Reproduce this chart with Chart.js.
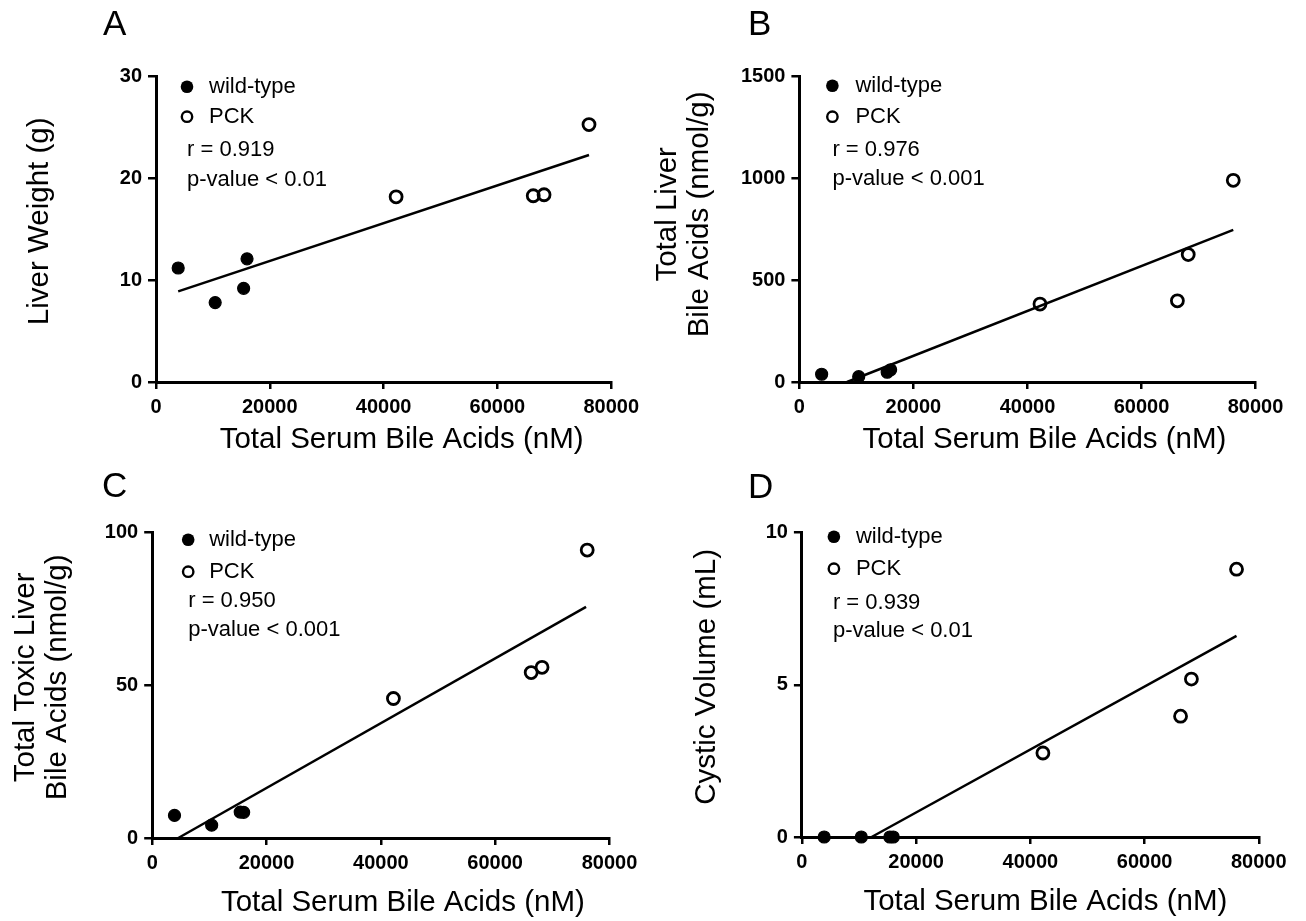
<!DOCTYPE html>
<html>
<head>
<meta charset="utf-8">
<script src="https://cdn.jsdelivr.net/npm/chart.js@4.4.1/dist/chart.umd.min.js"></script>
<style>
  body { margin: 0; background: #fff; }
  #fig { position: relative; width: 1306px; height: 921px; }
  #fig canvas { position: absolute; }
</style>
</head>
<body>
<div id="fig">
  <canvas id="panelA" width="645" height="460" style="left:0;top:0"></canvas>
  <canvas id="panelB" width="661" height="460" style="left:645px;top:0"></canvas>
  <canvas id="panelC" width="645" height="461" style="left:0;top:460px"></canvas>
  <canvas id="panelD" width="661" height="461" style="left:645px;top:460px"></canvas>
</div>
<script>
// Total serum bile acids (nM), same animals in every panel
const serumWT = [3900, 10400, 15400, 16000];
const serumPCK = [42200, 66300, 68200, 76100];
const serumTicks = [0, 20000, 40000, 60000, 80000];

// A - liver weight (g)
const liverWeightWT = [11.2, 7.8, 9.2, 12.1];
const liverWeightPCK = [18.2, 18.3, 18.4, 25.3];
const liverWeightFitX = [3900, 76100];
const liverWeightFitY = [8.9, 22.3];
const liverWeightTicks = [0, 10, 20, 30];

// B - total liver bile acids (nmol/g)
const liverBaWT = [38, 26, 48, 60];
const liverBaPCK = [383, 399, 626, 991];
const liverBaFitX = [8350, 76100];
const liverBaFitY = [0, 747];
const liverBaTicks = [0, 500, 1000, 1500];

// C - total toxic liver bile acids (nmol/g)
const toxicBaWT = [7.4, 4.2, 8.5, 8.4];
const toxicBaPCK = [45.7, 54.2, 55.9, 94.3];
const toxicBaFitX = [4560, 75900];
const toxicBaFitY = [0, 75.7];
const toxicBaTicks = [0, 50, 100];

// D - cystic volume (mL)
const cysticWT = [0, 0, 0, 0];
const cysticPCK = [2.76, 3.97, 5.19, 8.8];
const cysticFitX = [12200, 76100];
const cysticFitY = [0, 6.61];
const cysticTicks = [0, 5, 10];

const FONT = "'Liberation Sans', Arial, sans-serif";
Chart.defaults.font.family = FONT;
Chart.defaults.color = '#000';

const toPoints = (xs, ys) => xs.map((x, i) => ({ x: x, y: ys[i] }));

// panel letter, key, r / p-value and axis titles
const panelText = {
  id: 'panelText',
  afterDraw(chart, args, o) {
    const ctx = chart.ctx;
    const a = chart.chartArea;
    ctx.save();
    ctx.fillStyle = '#000';
    ctx.strokeStyle = '#000';
    ctx.textBaseline = 'middle';
    ctx.textAlign = 'left';

    ctx.font = '35px ' + FONT;
    ctx.fillText(o.letter, o.letterAt[0], o.letterAt[1]);

    const [mx, tx, sx] = o.keyX;
    const rows = o.keyY.map(v => a.top + v);
    ctx.beginPath();
    ctx.arc(a.left + mx, rows[0], 6.3, 0, Math.PI * 2);
    ctx.fill();
    ctx.beginPath();
    ctx.lineWidth = 2.4;
    ctx.arc(a.left + mx, rows[1], 5.2, 0, Math.PI * 2);
    ctx.stroke();

    ctx.font = '22px ' + FONT;
    ctx.fillText('wild-type', a.left + tx, rows[0]);
    ctx.fillText('PCK', a.left + tx, rows[1]);
    ctx.fillText(o.stats[0], a.left + sx, rows[2]);
    ctx.fillText(o.stats[1], a.left + sx, rows[3]);

    ctx.font = '29.5px ' + FONT;
    ctx.textAlign = 'center';
    ctx.fillText('Total Serum Bile Acids (nM)', (a.left + a.right) / 2 + o.xTitleDx, a.bottom + o.xTitleDy);

    const cy = (a.top + a.bottom) / 2 + o.yTitleDy;
    o.yTitle.forEach((line, i) => {
      ctx.save();
      ctx.translate(o.yTitleX[i], cy);
      ctx.rotate(-Math.PI / 2);
      ctx.fillText(line, 0, 0);
      ctx.restore();
    });
    ctx.restore();
  }
};

function makePanel(id, p) {
  return new Chart(document.getElementById(id), {
    type: 'scatter',
    data: {
      datasets: [
        {
          label: 'wild-type',
          data: toPoints(serumWT, p.wt),
          pointRadius: 6,
          pointHoverRadius: 6,
          pointBorderWidth: 1.2,
          backgroundColor: '#000',
          borderColor: '#000',
          clip: false
        },
        {
          label: 'PCK',
          data: toPoints(serumPCK, p.pck),
          pointRadius: 6,
          pointHoverRadius: 6,
          pointBorderWidth: 2.8,
          backgroundColor: 'rgba(0,0,0,0)',
          borderColor: '#000',
          clip: false
        },
        {
          label: 'fit',
          data: toPoints(p.fitX, p.fitY),
          showLine: true,
          pointRadius: 0,
          pointHoverRadius: 0,
          borderWidth: 2.5,
          borderColor: '#000',
          clip: false
        }
      ]
    },
    options: {
      responsive: false,
      animation: false,
      events: [],
      layout: { padding: { left: 0, top: p.box.top, right: p.box.right, bottom: 0 } },
      scales: {
        x: {
          type: 'linear',
          min: 0,
          max: 80000,
          afterBuildTicks: s => { s.ticks = serumTicks.map(v => ({ value: v })); },
          afterFit: s => { s.height = p.box.xHeight; },
          border: { display: true, color: '#000', width: 3 },
          grid: { drawOnChartArea: false, color: '#000', lineWidth: 2.5, tickLength: 7 },
          ticks: {
            padding: 6,
            maxRotation: 0,
            autoSkip: false,
            font: { size: 20, weight: 'bold' },
            callback: v => String(v)
          }
        },
        y: {
          type: 'linear',
          min: 0,
          max: p.yTicks[p.yTicks.length - 1],
          afterBuildTicks: s => { s.ticks = p.yTicks.map(v => ({ value: v })); },
          afterFit: s => { s.width = p.box.left; },
          border: { display: true, color: '#000', width: 3 },
          grid: { drawOnChartArea: false, color: '#000', lineWidth: 2.5, tickLength: 8 },
          ticks: {
            padding: 6,
            autoSkip: false,
            font: { size: 20, weight: 'bold' },
            callback: v => String(v)
          }
        }
      },
      plugins: {
        legend: { display: false },
        tooltip: { enabled: false },
        panelText: p.text
      }
    },
    plugins: [panelText]
  });
}

makePanel('panelA', {
  wt: liverWeightWT, pck: liverWeightPCK, fitX: liverWeightFitX, fitY: liverWeightFitY, yTicks: liverWeightTicks,
  box: { left: 156, top: 76.7, right: 32, xHeight: 78 },
  text: {
    letter: 'A', letterAt: [103, 25],
    keyX: [31, 53, 31], keyY: [10, 40, 73, 103],
    stats: ['r = 0.919', 'p-value < 0.01'],
    xTitleDx: 18, xTitleDy: 58,
    yTitle: ['Liver Weight (g)'], yTitleX: [39.5], yTitleDy: -8
  }
});

makePanel('panelB', {
  wt: liverBaWT, pck: liverBaPCK, fitX: liverBaFitX, fitY: liverBaFitY, yTicks: liverBaTicks,
  box: { left: 154.4, top: 76.7, right: 50.5, xHeight: 78 },
  text: {
    letter: 'B', letterAt: [103, 25],
    keyX: [33, 56, 33], keyY: [9, 40, 73, 102],
    stats: ['r = 0.976', 'p-value < 0.001'],
    xTitleDx: 17, xTitleDy: 58,
    yTitle: ['Total Liver', 'Bile Acids (nmol/g)'], yTitleX: [22.6, 55], yTitleDy: -15
  }
});

makePanel('panelC', {
  wt: toxicBaWT, pck: toxicBaPCK, fitX: toxicBaFitX, fitY: toxicBaFitY, yTicks: toxicBaTicks,
  box: { left: 152.2, top: 72.7, right: 35.5, xHeight: 83 },
  text: {
    letter: 'C', letterAt: [102, 27],
    keyX: [36, 57, 36], keyY: [7, 39, 68, 97],
    stats: ['r = 0.950', 'p-value < 0.001'],
    xTitleDx: 22, xTitleDy: 65,
    yTitle: ['Total Toxic Liver', 'Bile Acids (nmol/g)'], yTitleX: [26, 58], yTitleDy: -8
  }
});

makePanel('panelD', {
  wt: cysticWT, pck: cysticPCK, fitX: cysticFitX, fitY: cysticFitY, yTicks: cysticTicks,
  box: { left: 156.9, top: 72.7, right: 47.2, xHeight: 84 },
  text: {
    letter: 'D', letterAt: [103, 28],
    keyX: [32, 54, 31], keyY: [4, 36, 70, 98],
    stats: ['r = 0.939', 'p-value < 0.01'],
    xTitleDx: 15, xTitleDy: 65,
    yTitle: ['Cystic Volume (mL)'], yTitleX: [61.5], yTitleDy: -8
  }
});
</script>
</body>
</html>
